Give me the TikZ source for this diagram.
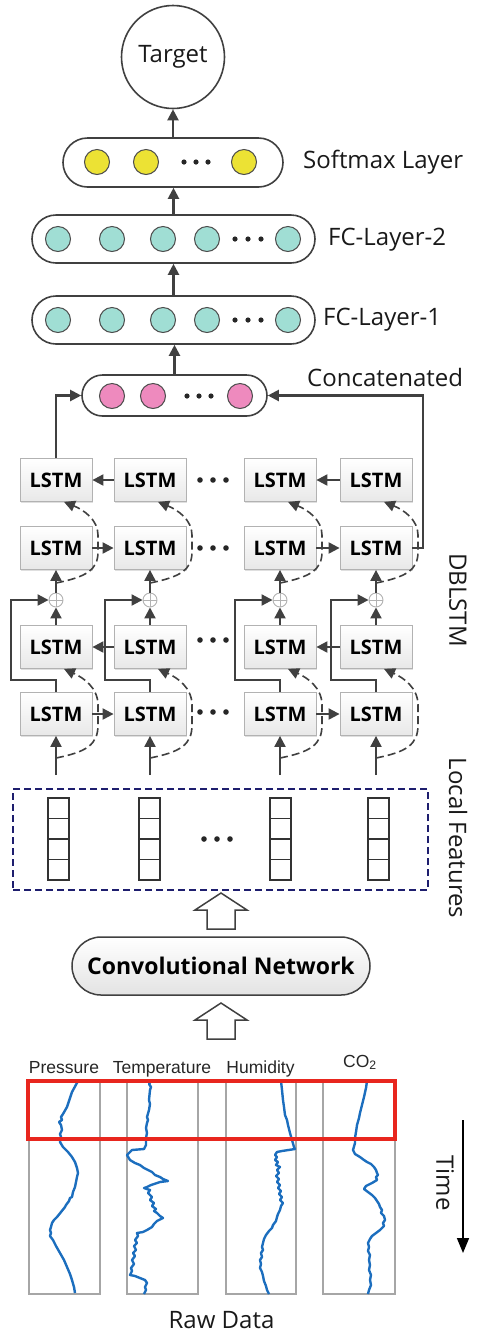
\documentclass[tikz,border=0pt]{standalone}
\usepackage{fontspec}
\setmainfont{Open Sans}
\newfontfamily\datafont{Liberation Sans}
\usetikzlibrary{arrows.meta,shapes.misc,shadows}
\definecolor{smyellow}{RGB}{236,226,52}
\definecolor{fcteal}{RGB}{160,222,212}
\definecolor{ccpink}{RGB}{238,138,190}
\definecolor{featnavy}{RGB}{30,30,110}
\definecolor{datablue}{RGB}{28,110,190}
\definecolor{rawred}{RGB}{232,38,30}
\definecolor{linegray}{RGB}{64,64,64}
\begin{document}
\begin{tikzpicture}[
 x=1pt,y=-1pt,
 arr/.style={draw=linegray,line width=2.1pt,-{Triangle[length=11pt,width=11pt]}},
 dasharr/.style={arr,line width=1.6pt,dash pattern=on 8pt off 4pt},
 layer/.style={rounded rectangle,draw=black!75,line width=1.6pt,fill=white,inner sep=0},
 neuron/.style={circle,draw=black!70,line width=1pt,minimum size=25pt,inner sep=0},
 lstm/.style={draw=gray!60,line width=.8pt,top color=white,bottom color=gray!18,
  drop shadow={shadow xshift=1.2pt,shadow yshift=-1.2pt,opacity=.25},
  minimum width=72pt,minimum height=43pt,inner sep=0,font=\fontsize{20}{24}\selectfont\bfseries},
 addc/.style={circle,draw=gray!60,line width=.9pt,minimum size=14pt,inner sep=0,fill=white},
 lbl/.style={font=\fontsize{24}{28}\selectfont,text=black!90,inner sep=0},
 datalbl/.style={font=\datafont\fontsize{17.5}{20}\selectfont,text=black!85,inner sep=0,anchor=base}]
 \useasboundingbox (0,0) rectangle (480,1334);
 % Output and fully connected layers.
 \node[circle,draw=black!75,line width=1.6pt,minimum size=103pt,lbl] (target) at (173,57) {Target};
 \node[layer,minimum width=220pt,minimum height=49pt] (softmax) at (173,162.5) {};
 \foreach \i/\x in {1/97,2/146,3/244} \node[neuron,fill=smyellow] (sm\i) at (\x,162) {};
 \foreach \d in {-12,0,12} \fill[black!85] (196+\d,162) circle (2.6pt);
 \node[lbl,anchor=west] (smlbl) at (303,162) {Softmax Layer};
 \foreach \n/\y in {fc2/239,fc1/320}{
  \node[layer,minimum width=283pt,minimum height=48pt] (\n) at (173.5,\y) {};
  \foreach \i/\x in {1/58,2/112,3/163,4/207,5/288} \node[neuron,fill=fcteal] (\n n\i) at (\x,\y) {};
  \foreach \d in {-13,0,13} \fill[black!85] (248+\d,\y) circle (2.6pt);
 }
 \node[lbl,anchor=west] (fc2lbl) at (328,240) {FC-Layer-2};
 \node[lbl,anchor=west] (fc1lbl) at (323,320) {FC-Layer-1};
 \node[layer,minimum width=185pt,minimum height=41pt] (concat) at (174.5,395.5) {};
 \foreach \i/\x in {1/112,2/153,3/240} \node[neuron,fill=ccpink] (cc\i) at (\x,396) {};
 \foreach \d in {-12,0,12} \fill[black!85] (199+\d,396) circle (2.6pt);
 \node[lbl,anchor=west] (cclbl) at (307,377) {Concatenated};
 \draw[arr] (softmax.north) -- (target.south);
 \draw[arr] (fc2.north) -- (fc2.north |- softmax.south);
 \draw[arr] (fc1.north) -- (fc2.south);
 \draw[arr] (concat.north) -- (concat.north |- fc1.south);
 % Two bidirectional LSTM layers.
 \foreach \c/\x in {1/56,2/150,3/280,4/376}{
  \foreach \r/\y in {1/480,2/548,3/647,4/714}
   \node[lstm] (l\r\c) at (\x,\y) {LSTM};
  \node[addc] (p\c) at (\x,600) {};
  \draw[gray!60,line width=.9pt] (p\c.north) -- (p\c.south) (p\c.west) -- (p\c.east);
  \coordinate (in\c) at (\x,775);
  \coordinate (bl\c) at (\x,758);
  \coordinate (bu\c) at (\x,583);
  \draw[arr] (in\c) -- (l4\c.south);
  \draw[arr] (l3\c.north) -- (p\c.south);
  \draw[arr] (p\c.north) -- (l2\c.south);
  \draw[arr] (l4\c.north) -- ++(0,-12) -| (\x-45,600) -- (p\c.west);
  \draw[dasharr] (bl\c) .. controls (\x+30,752) and (\x+42,745) .. (\x+42,725) -- (\x+42,705)
   .. controls (\x+42,688) and (\x+28,678) .. ([xshift=8pt]l3\c.south);
  \draw[dasharr] (bu\c) .. controls (\x+30,577) and (\x+42,570) .. (\x+42,552) -- (\x+42,535)
   .. controls (\x+42,520) and (\x+28,510) .. ([xshift=8pt]l1\c.south);
 }
 \foreach \a/\b in {2/1,4/3}{\draw[arr] (l1\a) -- (l1\b); \draw[arr] (l3\a) -- (l3\b);}
 \foreach \a/\b in {1/2,3/4}{\draw[arr] (l2\a) -- (l2\b); \draw[arr] (l4\a) -- (l4\b);}
 \foreach \y in {480,548,640,712}
  \foreach \d in {-13,0,13} \fill[black!85] (213+\d,\y) circle (2.8pt);
 \draw[arr] (l11.north) |- (concat.west);
 \draw[arr] (l24.east) -- ++(11,0) |- (concat.east);
 \node[lbl,rotate=-90] (dblbl) at (458,600) {DBLSTM};
 % Local features from the CNN.
 \node[draw=featnavy,line width=1.8pt,dash pattern=on 7pt off 4pt,minimum width=415pt,
  minimum height=101pt,inner sep=0] (feat) at (220.5,839.5) {};
 \foreach \c/\x in {1/58.5,2/149.5,3/280.5,4/378.5}{
  \node[draw=black!80,line width=1.1pt,minimum width=21pt,minimum height=82pt,inner sep=0] (fv\c) at (\x,839) {};
  \foreach \k in {1,2,3} \draw[black!80,line width=1.1pt] (\x-10.5,798+20.5*\k) -- (\x+10.5,798+20.5*\k);
 }
 \foreach \d in {-13,0,13} \fill[black!85] (217+\d,839) circle (2.8pt);
 \node[lbl,rotate=-90] (featlbl) at (458,838) {Local Features};
 \foreach \t in {893,1003}
  \draw[black!75,line width=1.5pt,fill=white] (207,\t+36) -- (207,\t+17) -- (195,\t+17) -- (221,\t)
   -- (247,\t+17) -- (235,\t+17) -- (235,\t+36) -- cycle;
 \node[rounded rectangle,draw=black!75,line width=1.5pt,top color=white,bottom color=gray!22,
  minimum width=298pt,minimum height=58pt,inner sep=0,font=\fontsize{23}{27}\selectfont\bfseries]
  (conv) at (221,966) {Convolutional Network};
 % Raw sensor data.
 \node[datalbl] (plbl) at (64,1073) {Pressure};
 \node[datalbl] (tlbl) at (162,1073) {Temperature};
 \node[datalbl] (hlbl) at (260.5,1073) {Humidity};
 \node[datalbl] (clbl) at (360,1067) {CO\textsubscript{2}};
 \foreach \a/\b in {29/100,127/198,226/296,323/395}
  \draw[gray!70,line width=1.1pt] (\a,1081) rectangle (\b,1294);
 \begin{scope}[datablue,line width=2.4pt,line join=round]
  \draw plot coordinates {(78,1081) (72,1092) (67,1107) (63,1114) (61,1117) (62,1120) (59,1122) (61,1125)
   (62,1130) (60,1134) (61,1137) (60,1142) (63,1147) (68,1152) (72,1157) (75,1162) (77,1168) (78,1173)
   (77,1177) (76,1182) (75,1187) (73,1192) (72,1197) (70,1198) (69,1201) (66,1205) (65,1207) (61,1212)
   (57,1217) (54,1220) (52,1223) (51,1227) (50,1230) (51,1233) (50,1236) (53,1240) (56,1246) (60,1253)
   (64,1260) (67,1267) (70,1274) (72,1280) (74,1287) (75,1293)};
  \draw plot coordinates {(151,1081) (149,1084) (151,1087) (150,1090) (149,1100) (150,1104) (149,1110)
   (147,1117) (148,1120) (147,1123) (146,1128) (147,1133) (146,1138) (146,1145) (144,1149) (132,1150)
   (127,1155) (130,1160) (135,1163) (140,1165) (144,1168) (148,1170) (152,1172) (155,1175) (160,1177)
   (163,1179) (168,1181) (160,1182) (157,1183) (151,1185) (147,1187) (144,1188) (150,1190) (148,1193)
   (152,1197) (150,1200) (154,1203) (152,1206) (156,1209) (154,1211) (157,1213) (160,1216) (163,1218)
   (159,1220) (157,1221) (154,1224) (152,1227) (147,1230) (143,1232) (137,1233) (138,1236) (135,1240)
   (137,1243) (134,1246) (136,1250) (133,1253) (135,1256) (132,1260) (134,1264) (131,1268) (132,1271)
   (130,1275) (135,1276) (140,1278) (145,1280) (147,1283) (145,1287) (146,1290) (144,1294)};
  \draw plot coordinates {(281,1081) (282,1090) (283,1100) (284,1107) (285,1115) (287,1120) (288,1125)
   (290,1133) (292,1140) (294,1147) (295,1149) (282,1151) (277,1152) (275,1155) (277,1157) (275,1160)
   (278,1162) (276,1165) (280,1167) (277,1170) (279,1173) (276,1176) (279,1179) (277,1182) (280,1185)
   (278,1188) (281,1191) (279,1194) (282,1197) (280,1200) (283,1203) (281,1206) (280,1210) (278,1214)
   (277,1217) (276,1221) (273,1225) (272,1228) (269,1231) (266,1235) (264,1239) (263,1243) (262,1247)
   (263,1250) (261,1253) (262,1257) (260,1260) (261,1264) (260,1268) (262,1272) (263,1276) (264,1281)
   (266,1286) (267,1290) (269,1294)};
  \draw plot coordinates {(367,1081) (366,1088) (364,1097) (362,1105) (360,1113) (359,1118) (357,1125)
   (356,1132) (355,1138) (355,1143) (353,1150) (355,1154) (360,1157) (364,1160) (367,1162) (371,1164)
   (374,1167) (376,1170) (377,1173) (378,1175) (376,1177) (377,1180) (372,1183) (368,1185) (366,1186)
   (364,1189) (368,1192) (372,1195) (375,1198) (377,1201) (379,1204) (380,1207) (382,1210) (381,1213)
   (384,1216) (385,1220) (383,1223) (384,1226) (380,1230) (376,1233) (372,1236) (370,1239) (368,1243)
   (369,1247) (368,1251) (370,1255) (369,1260) (370,1265) (369,1270) (371,1275) (370,1280) (371,1285)
   (369,1290) (368,1294)};
 \end{scope}
 \draw[rawred,line width=3.5pt] (28,1081) rectangle (395,1139);
 \node[lbl] (rawlbl) at (221.5,1320) {Raw Data};
 \coordinate (t0) at (463,1120);
 \coordinate (t1) at (463,1253);
 \draw[black,line width=1.6pt,-{Triangle[length=15pt,width=12pt]}] (t0) -- (t1);
 \node[lbl,rotate=-90] (timelbl) at (445,1183) {Time};
\end{tikzpicture}
\end{document}
